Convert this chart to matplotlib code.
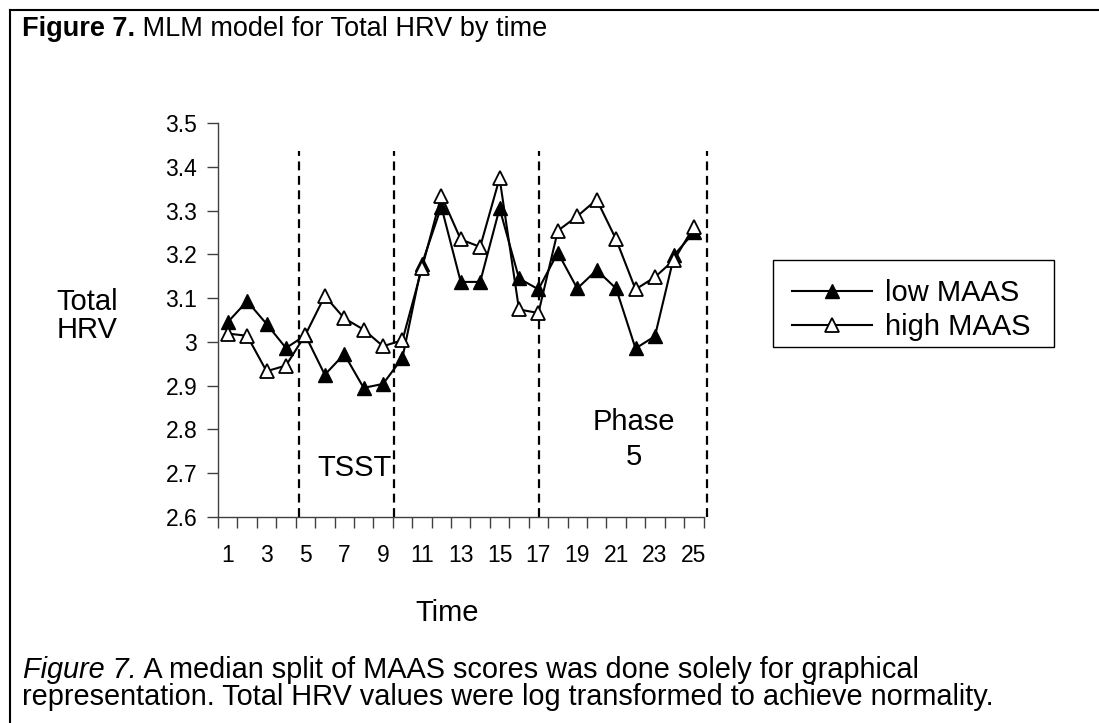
import matplotlib
matplotlib.use("Agg")
import matplotlib.pyplot as plt
from matplotlib.lines import Line2D
from matplotlib.patches import Rectangle

plt.rcParams['font.family'] = ['Liberation Sans', 'DejaVu Sans']

# data
time = list(range(1, 26))
low_maas = [3.045, 3.093, 3.041, 2.986, 3.015, 2.925, 2.972, 2.895, 2.904, 2.964,
            3.178, 3.309, 3.137, 3.137, 3.305, 3.145, 3.120, 3.204, 3.122, 3.164,
            3.122, 2.985, 3.013, 3.199, 3.250]
high_maas = [3.019, 3.014, 2.933, 2.946, 3.016, 3.105, 3.054, 3.028, 2.990, 3.004,
             3.168, 3.334, 3.234, 3.217, 3.374, 3.074, 3.066, 3.254, 3.287, 3.325,
             3.234, 3.120, 3.148, 3.188, 3.263]
phase_bounds = [4.66, 9.58, 17.03, 25.69]
xtick_labels = [str(t) for t in range(1, 26, 2)]
ytick_vals = [2.6, 2.7, 2.8, 2.9, 3.0, 3.1, 3.2, 3.3, 3.4, 3.5]
ytick_labels = ['2.6', '2.7', '2.8', '2.9', '3', '3.1', '3.2', '3.3', '3.4', '3.5']

W, H = 1099, 723
LBL = 21


def px(x, y):
    return x / W, 1 - y / H


fig = plt.figure(figsize=(W / 100, H / 100), dpi=100)
ax = fig.add_axes([218 / W, 1 - 517 / H, (703.5 - 218) / W, (517 - 123) / H])

ax.plot(time, low_maas, color='black', lw=1.5, marker='^', ms=9.5,
        mfc='black', mec='black', mew=1, label='low MAAS', zorder=3)
ax.plot(time, high_maas, color='black', lw=1.5, marker='^', ms=9.5,
        mfc='white', mec='black', mew=1.3, label='high MAAS', zorder=4)

for xb in phase_bounds:
    ax.plot([xb, xb], [2.6, 3.435], color='black', lw=1.6,
            ls=(0, (4, 2.5)), clip_on=False, zorder=2)

ax.set_xlim(0.5, 25.5)
ax.set_ylim(2.6, 3.5)
ax.set_xticks(range(1, 26, 2))
ax.set_xticklabels(xtick_labels)
ax.set_xticks([i + 0.5 for i in range(0, 26)], minor=True)
ax.tick_params(axis='x', which='major', length=0, pad=19.5, labelsize=16.5)
ax.tick_params(axis='x', which='minor', length=8, width=1, color='#404040')
ax.set_yticks(ytick_vals)
ax.set_yticklabels(ytick_labels)
ax.tick_params(axis='y', length=8, width=1, color='#404040', pad=7, labelsize=16.5)
for s in ['top', 'right']:
    ax.spines[s].set_visible(False)
for s in ['left', 'bottom']:
    ax.spines[s].set_color('#404040')
    ax.spines[s].set_linewidth(1)

fig.text(*px(354, 468), 'TSST', fontsize=LBL, ha='center', va='center')
fig.text(*px(634, 422), 'Phase', fontsize=LBL, ha='center', va='center')
fig.text(*px(634, 457), '5', fontsize=LBL, ha='center', va='center')
fig.text(*px(87, 302), 'Total', fontsize=LBL, ha='center', va='center')
fig.text(*px(87, 330), 'HRV', fontsize=LBL, ha='center', va='center')
fig.text(*px(447, 613), 'Time', fontsize=LBL, ha='center', va='center')

fig.legend(loc='upper left', bbox_to_anchor=px(773, 260), fontsize=LBL,
           frameon=False, handlelength=2.74,
           handletextpad=0.45, labelspacing=0.2, borderpad=0.65,
           borderaxespad=0)
# legend box drawn separately (tighter at the bottom than matplotlib's padding)
fig.add_artist(Rectangle(px(773, 347), (1054 - 773) / W, (347 - 260) / H,
                         transform=fig.transFigure, fill=False,
                         edgecolor='black', lw=1))

# figure frame (top and left edges)
fig.add_artist(Line2D([10 / W, 1], [1 - 10 / H, 1 - 10 / H], color='black', lw=1.5))
fig.add_artist(Line2D([10 / W, 10 / W], [0, 1 - 10 / H], color='black', lw=1.5))

renderer = fig.canvas.get_renderer()

t1 = fig.text(*px(22, 29), 'Figure 7.', fontsize=19.5, fontweight='bold', va='center')
bb = t1.get_window_extent(renderer)
fig.text(bb.x1 / W, 1 - 29 / H, ' MLM model for Total HRV by time', fontsize=19.5, va='center')

c1 = fig.text(*px(23, 670), 'Figure 7.', fontsize=20.8, fontstyle='italic', va='center')
bb = c1.get_window_extent(renderer)
fig.text(bb.x1 / W, 1 - 670 / H, ' A median split of MAAS scores was done solely for graphical',
         fontsize=20.8, va='center')
fig.text(*px(22, 697), 'representation. Total HRV values were log transformed to achieve normality.',
         fontsize=20.8, va='center')

fig.savefig('out.png', dpi=100)
